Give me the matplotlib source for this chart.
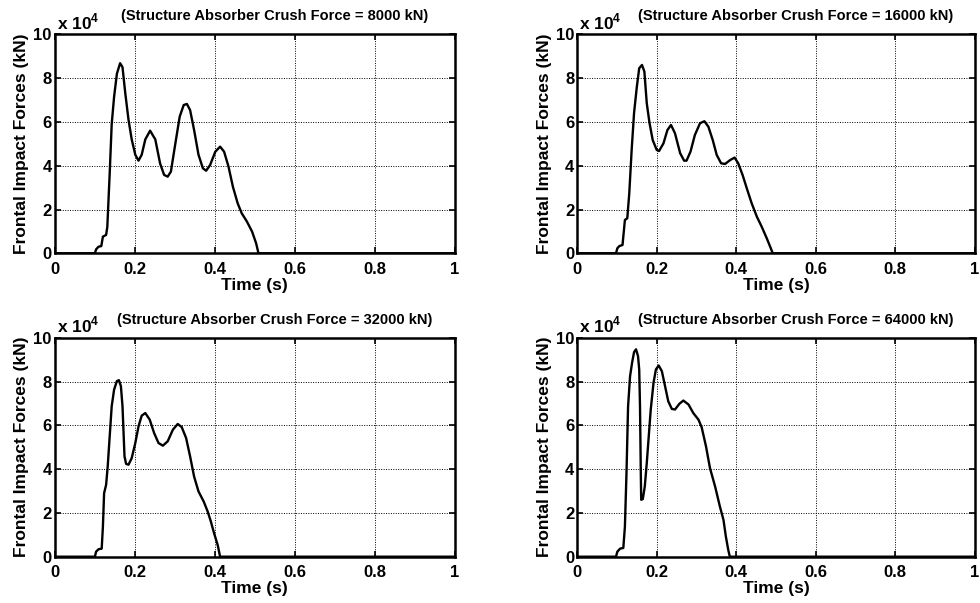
import matplotlib
matplotlib.use("Agg")
import matplotlib.pyplot as plt

plt.rcParams['font.family'] = ['Liberation Sans', 'DejaVu Sans']
plt.rcParams['font.weight'] = 'bold'
plt.rcParams['mathtext.fontset'] = 'custom'
plt.rcParams['mathtext.bf'] = 'Liberation Sans:bold'
plt.rcParams['mathtext.rm'] = 'Liberation Sans:bold'

titles = ["(Structure Absorber Crush Force = 8000 kN)",
          "(Structure Absorber Crush Force = 16000 kN)",
          "(Structure Absorber Crush Force = 32000 kN)",
          "(Structure Absorber Crush Force = 64000 kN)"]

# Time (s) and force (x 1e4 kN)
t_8000 = [0.0, 0.101, 0.104, 0.110, 0.117, 0.121, 0.129, 0.132, 0.138, 0.143, 0.149, 0.156, 0.164,
          0.170, 0.177, 0.185, 0.193, 0.202, 0.210, 0.218, 0.227, 0.239, 0.252, 0.264, 0.274,
          0.283, 0.291, 0.302, 0.313, 0.323, 0.331, 0.339, 0.349, 0.360, 0.371, 0.379, 0.389,
          0.402, 0.414, 0.424, 0.435, 0.446, 0.458, 0.468, 0.481, 0.494, 0.504, 0.510, 1.0]
f_8000 = [0.0, 0.0, 0.18, 0.30, 0.33, 0.76, 0.84, 1.2, 3.65, 5.9, 7.15, 8.2, 8.68,
          8.5, 7.3, 6.1, 5.2, 4.5, 4.23, 4.5, 5.2, 5.6, 5.2, 4.1, 3.58,
          3.5, 3.73, 5.0, 6.24, 6.77, 6.82, 6.54, 5.63, 4.5, 3.88, 3.77, 4.03,
          4.64, 4.87, 4.64, 3.96, 3.04, 2.28, 1.83, 1.45, 0.99, 0.46, 0.0, 0.0]

t_16000 = [0.0, 0.0976, 0.101, 0.106, 0.114, 0.120, 0.126, 0.131, 0.137, 0.143, 0.150, 0.156, 0.163,
           0.169, 0.175, 0.182, 0.190, 0.200, 0.206, 0.217, 0.227, 0.236, 0.246, 0.259, 0.269,
           0.275, 0.285, 0.296, 0.309, 0.320, 0.330, 0.341, 0.351, 0.362, 0.372, 0.385, 0.396,
           0.405, 0.416, 0.428, 0.439, 0.452, 0.464, 0.477, 0.487, 0.492, 1.0]
f_16000 = [0.0, 0.0, 0.23, 0.33, 0.38, 1.52, 1.6, 2.74, 4.72, 6.4, 7.6, 8.45, 8.6,
           8.3, 6.85, 5.94, 5.17, 4.72, 4.67, 5.02, 5.63, 5.86, 5.48, 4.57, 4.23,
           4.23, 4.64, 5.4, 5.94, 6.03, 5.78, 5.17, 4.49, 4.11, 4.08, 4.26, 4.37,
           4.11, 3.58, 2.89, 2.28, 1.67, 1.22, 0.68, 0.23, 0.0, 0.0]

t_32000 = [0.0, 0.101, 0.104, 0.110, 0.118, 0.121, 0.124, 0.129, 0.133, 0.138, 0.143, 0.149, 0.156,
           0.161, 0.166, 0.170, 0.173, 0.175, 0.179, 0.185, 0.193, 0.202, 0.210, 0.218, 0.227,
           0.238, 0.249, 0.260, 0.271, 0.283, 0.296, 0.308, 0.318, 0.329, 0.339, 0.349, 0.360,
           0.373, 0.383, 0.391, 0.399, 0.408, 0.414, 1.0]
f_32000 = [0.0, 0.0, 0.23, 0.34, 0.37, 1.37, 2.9, 3.28, 4.12, 5.5, 6.87, 7.63, 8.02,
           8.06, 7.79, 6.87, 5.5, 4.58, 4.24, 4.2, 4.5, 5.19, 5.95, 6.44, 6.56,
           6.26, 5.65, 5.19, 5.07, 5.27, 5.8, 6.06, 5.92, 5.42, 4.58, 3.66, 2.98,
           2.52, 2.06, 1.6, 1.07, 0.53, 0.0, 0.0]

t_64000 = [0.0, 0.0976, 0.101, 0.108, 0.116, 0.120, 0.124, 0.128, 0.133, 0.138, 0.143, 0.148, 0.153,
           0.156, 0.158, 0.160, 0.161, 0.165, 0.170, 0.175, 0.180, 0.185, 0.192, 0.198, 0.205,
           0.213, 0.221, 0.229, 0.238, 0.246, 0.257, 0.267, 0.280, 0.292, 0.305, 0.313, 0.324,
           0.334, 0.347, 0.359, 0.368, 0.374, 0.380, 0.384, 1.0]
f_64000 = [0.0, 0.0, 0.23, 0.37, 0.40, 1.37, 3.82, 6.87, 8.24, 8.85, 9.34, 9.47, 9.16,
           8.55, 6.87, 3.82, 2.6, 2.63, 3.2, 4.27, 5.5, 6.72, 7.94, 8.55, 8.73,
           8.47, 7.79, 7.1, 6.75, 6.72, 6.98, 7.13, 6.95, 6.56, 6.26, 5.92, 5.04,
           4.05, 3.2, 2.29, 1.68, 0.92, 0.31, 0.0, 0.0]

series = [(t_8000, f_8000), (t_16000, f_16000), (t_32000, f_32000), (t_64000, f_64000)]

x_ticks = [0, 0.2, 0.4, 0.6, 0.8, 1]
x_tick_labels = ["0", "0.2", "0.4", "0.6", "0.8", "1"]
y_ticks = [0, 2, 4, 6, 8, 10]
y_tick_labels = ["0", "2", "4", "6", "8", "10"]

W, H = 980, 603
fig = plt.figure(figsize=(W / 100, H / 100), dpi=100)

# axes boxes in pixels: left, top, right, bottom
boxes = [(54.5, 34.3, 454.5, 253.3), (577.2, 34.3, 974.7, 253.3),
         (54.5, 337.7, 454.5, 556.7), (577.2, 337.7, 974.7, 556.7)]

for (l, t, r, b), (tx, fy), title in zip(boxes, series, titles):
    ax = fig.add_axes([l / W, 1 - b / H, (r - l) / W, (b - t) / H])
    ax.plot(tx, fy, color='black', linewidth=1.7, zorder=3)
    ax.set_xlim(0, 1)
    ax.set_ylim(0, 10)
    ax.set_xticks(x_ticks)
    ax.set_xticklabels(x_tick_labels)
    ax.set_yticks(y_ticks)
    ax.set_yticklabels(y_tick_labels)
    ax.grid(True, color='black', linestyle=(0, (1, 1.5)), linewidth=0.7)
    ax.tick_params(direction='in', length=4, width=1.2, top=True, right=True,
                   labelsize=12)
    ax.tick_params(axis='x', pad=6)
    ax.tick_params(axis='y', pad=2)
    for lab in ax.get_xticklabels() + ax.get_yticklabels():
        lab.set_fontweight('bold')
    for sp in ax.spines.values():
        sp.set_linewidth(1.8)
    ax.set_xlabel("Time (s)", fontsize=12.5, fontweight='bold', labelpad=1)
    ax.set_ylabel("Frontal Impact Forces (kN)", fontsize=12.5, fontweight='bold', labelpad=3)
    ax.text(0.005, 1.01, r"x 10$^{\mathbf{4}}$", transform=ax.transAxes, fontsize=12.5,
            fontweight='bold', ha='left', va='bottom')
    ax.text(0.55, 1.05, title, transform=ax.transAxes, fontsize=10.5,
            fontweight='bold', ha='center', va='bottom')

fig.savefig("out.png", dpi=100)
